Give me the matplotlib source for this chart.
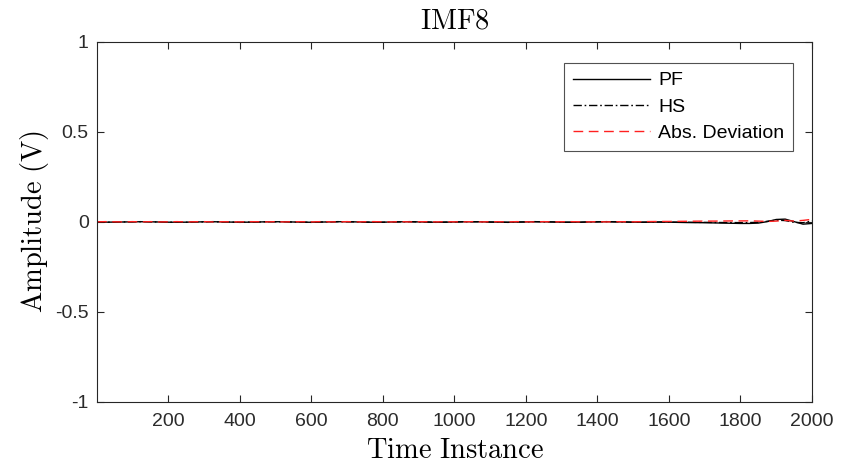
import matplotlib
matplotlib.use("Agg")
import matplotlib.pyplot as plt

# ---- data (values in volts) ----
time_instance = [1, 25, 50, 75, 100, 125, 150, 175, 200, 225, 250, 275, 300, 325, 350, 375,
                 400, 425, 450, 475, 500, 525, 550, 575, 600, 625, 650, 675, 700, 725, 750, 775,
                 800, 825, 850, 875, 900, 925, 950, 975, 1000, 1025, 1050, 1075, 1100, 1125, 1150,
                 1175, 1200, 1225, 1250, 1275, 1300, 1325, 1350, 1375, 1400, 1425, 1450, 1475,
                 1500, 1525, 1550, 1575, 1600, 1625, 1650, 1675, 1700, 1725, 1750, 1775, 1800,
                 1825, 1850, 1875, 1900, 1925, 1950, 1975, 2000]

pf = [-1.0, -1.0, -0.5, 0.0, 1.0, 1.5, 1.0, 0.0, -1.0, -1.5, -1.0, 0.0, 1.0, 1.5, 0.5, -0.5,
      -1.5, -1.0, 0.0, 1.0, 1.5, 1.0, 0.0, -1.0, -1.5, -0.5, 0.5, 1.5, 1.5, 0.5, -0.5, -1.5,
      -1.0, 0.0, 1.0, 1.5, 0.5, -0.5, -1.5, -1.0, 0.0, 1.0, 1.5, 1.0, 0.0, -1.0, -1.5,
      -0.5, 0.5, 1.5, 1.0, 0.0, -1.0, -1.5, -1.0, 0.0, 1.0, 1.5, 1.0, 0.0,
      -1.0, -1.5, -1.0, -0.5, -1.0, -2.0, -3.0, -3.5, -4.0, -5.0, -6.0, -7.0, -8.0,
      -8.0, -6.0, 2.0, 14.0, 16.0, 2.0, -12.0, -8.0]

hs = [-0.5, -1.5, -1.0, 0.5, 0.5, 2.0, 0.5, 0.5, -1.5, -1.0, -1.5, 0.5, 0.5, 2.0, 0.0, 0.0,
      -2.0, -0.5, -0.5, 1.5, 1.0, 1.5, -0.5, -0.5, -2.0, 0.0, 0.0, 2.0, 1.0, 1.0, -1.0, -1.0,
      -1.5, 0.5, 0.5, 2.0, 0.0, 0.0, -2.0, -0.5, -0.5, 1.5, 1.0, 1.5, -0.5, -0.5, -2.0,
      0.0, 0.0, 2.0, 0.5, 0.5, -1.5, -1.0, -1.5, 0.5, 0.5, 2.0, 0.5, 0.5,
      -1.5, -1.0, -0.5, 0.0, -0.5, -1.0, -1.5, -2.0, -2.0, -2.5, -3.0, -3.0, -3.5,
      -3.0, -2.0, 4.0, 10.0, 8.0, -2.0, -4.0, 6.0]

abs_dev = [1.0, 2.0, 1.0, 0.5, 2.0, 0.5, 2.0, 0.5, 1.0, 2.0, 0.5, 1.5, 2.0, 0.5, 1.5, 1.0,
           0.5, 2.0, 1.5, 0.5, 2.0, 0.5, 1.5, 1.5, 0.5, 2.0, 1.0, 0.5, 2.0, 0.5, 1.5, 2.0,
           1.0, 0.5, 2.0, 0.5, 1.5, 1.5, 0.5, 2.0, 1.0, 0.5, 2.0, 0.5, 1.5, 1.5, 0.5,
           2.0, 1.0, 0.5, 2.0, 0.5, 1.5, 2.0, 1.0, 0.5, 2.0, 0.5, 1.5, 1.5,
           1.0, 2.0, 2.5, 3.0, 3.0, 3.5, 4.0, 4.5, 5.0, 5.0, 5.5, 6.0, 6.0,
           6.5, 5.0, 3.0, 5.0, 9.0, 5.0, 9.0, 15.0]

series_labels = ["PF", "HS", "Abs. Deviation"]
x_ticks = [200, 400, 600, 800, 1000, 1200, 1400, 1600, 1800, 2000]
y_ticks = [-1, -0.5, 0, 0.5, 1]
y_tick_labels = ["-1", "-0.5", "0", "0.5", "1"]

pf_v = [v / 1000.0 for v in pf]
hs_v = [v / 1000.0 for v in hs]
dev_v = [v / 1000.0 for v in abs_dev]

plt.rcParams['axes.unicode_minus'] = False
plt.rcParams['mathtext.fontset'] = 'cm'
plt.rcParams['font.family'] = ['Liberation Sans', 'DejaVu Sans']

fig = plt.figure(figsize=(8.42, 4.72), dpi=100)
ax = fig.add_axes([97 / 842, 1 - 402 / 472, 715 / 842, 360 / 472])

ax.plot(time_instance, pf_v, color='black', linestyle='-', linewidth=1.0, label=series_labels[0])
ax.plot(time_instance, hs_v, color='black', linestyle=(0, (6, 2, 1.2, 2)), linewidth=1.0,
        label=series_labels[1])
ax.plot(time_instance, dev_v, color='#ff2020', linestyle=(0, (7, 4)), linewidth=1.0,
        label=series_labels[2])

ax.set_xlim(1, 2000)
ax.set_ylim(-1, 1)
ax.set_xticks(x_ticks)
ax.set_xticklabels([str(v) for v in x_ticks])
ax.set_yticks(y_ticks)
ax.set_yticklabels(y_tick_labels)

axcol = '#262626'
for s in ax.spines.values():
    s.set_color(axcol)
    s.set_linewidth(0.8)
ax.tick_params(direction='in', length=5, width=0.8, color=axcol, labelsize=14,
               labelcolor='#2b2b2b', top=True, right=True)
ax.tick_params(axis='x', pad=8)
ax.tick_params(axis='y', pad=6)

ax.set_title(r'$\mathrm{IMF8}$', fontsize=20.5, color='black', pad=10)
ax.set_xlabel(r'$\mathrm{Time\ Instance}$', fontsize=20.5, color='black', labelpad=6)
ax.set_ylabel(r'$\mathrm{Amplitude\ (V)}$', fontsize=20.5, color='black', labelpad=3)

leg = ax.legend(loc='upper right', bbox_to_anchor=(0.9734, 0.9417), borderaxespad=0,
                fontsize=14, handlelength=4.0, handletextpad=0.4, labelspacing=0.45,
                frameon=True, fancybox=False, borderpad=0.45)
leg.get_frame().set_edgecolor(axcol)
leg.get_frame().set_linewidth(0.8)

fig.savefig('out.png', dpi=100)
